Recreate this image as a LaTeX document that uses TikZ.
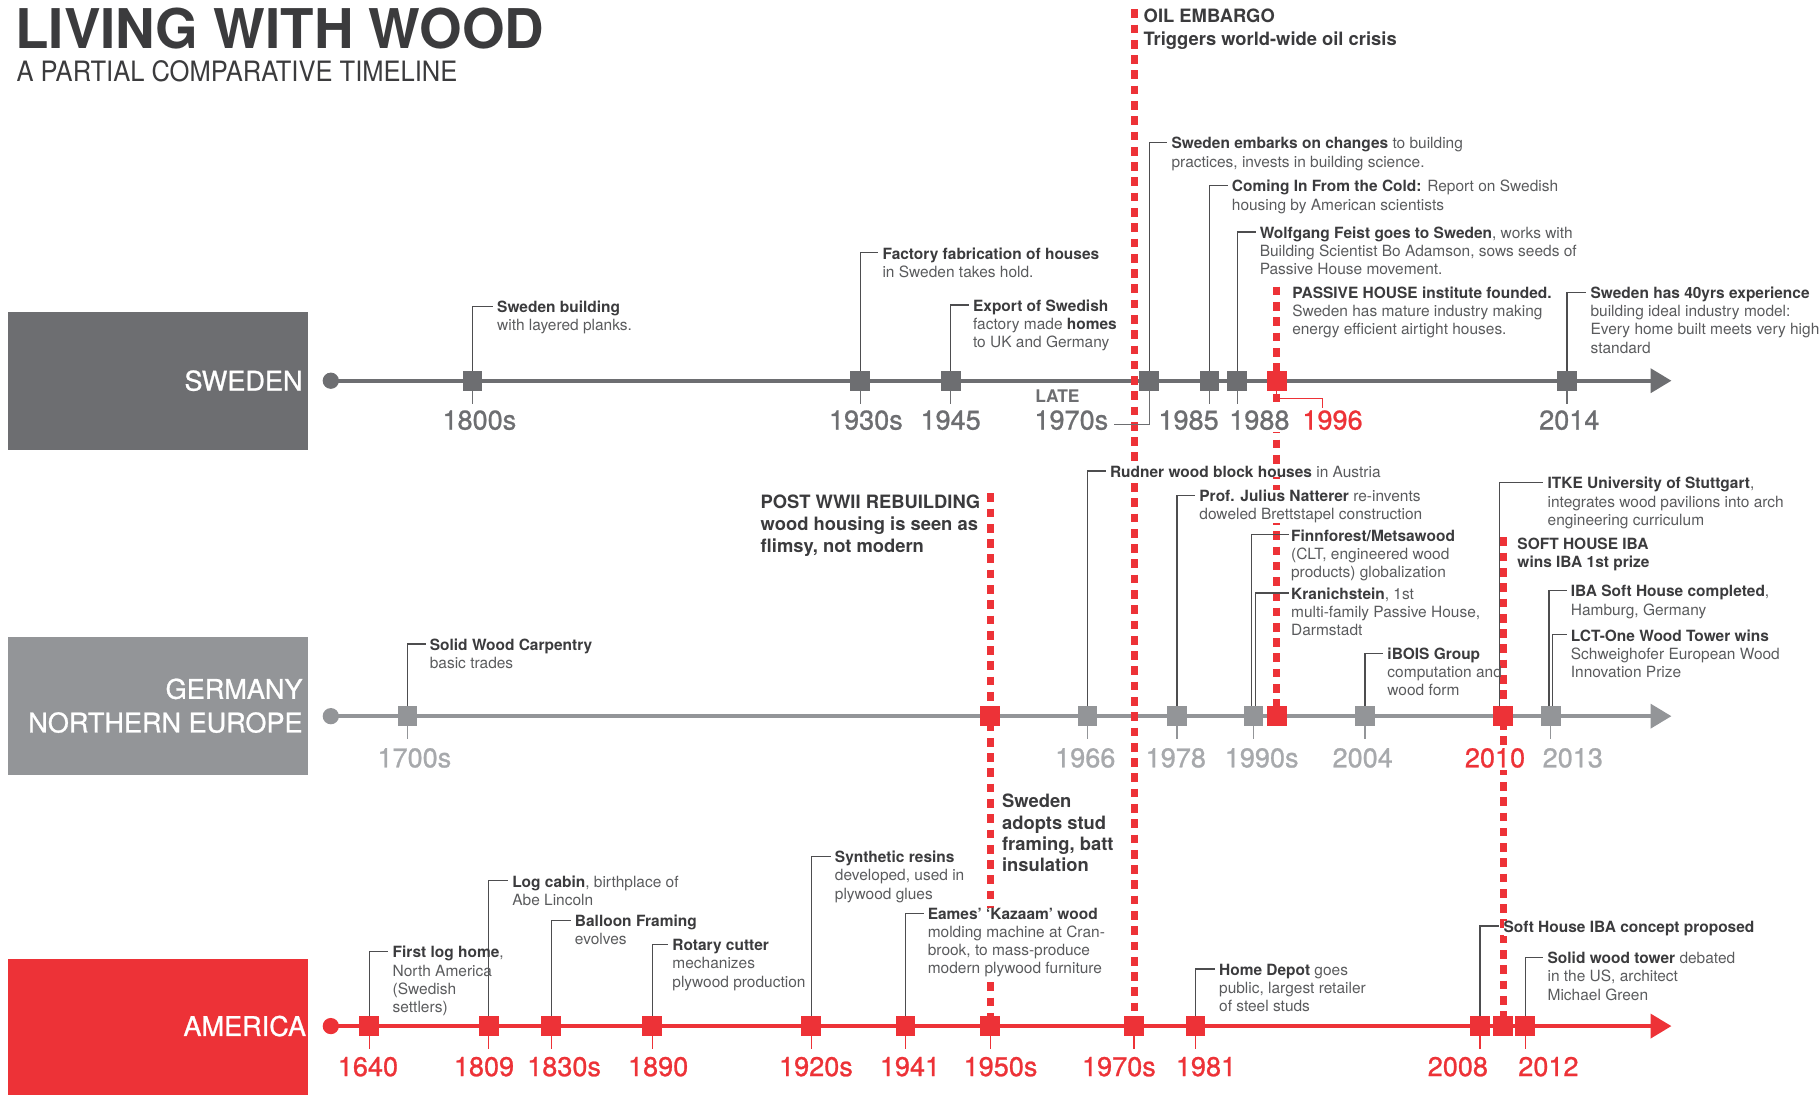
\documentclass[tikz,border=0pt]{standalone}
\usepackage{fontspec}
\setmainfont{TeX Gyre Heros}
\newfontfamily\narrowfont[FakeStretch=0.91]{TeX Gyre Heros}
\newfontfamily\medfont[FakeBold=0.9]{TeX Gyre Heros}
\usetikzlibrary{arrows.meta}
\definecolor{swgray}{HTML}{6D6E71}
\definecolor{degray}{HTML}{939598}
\definecolor{delabel}{HTML}{A7A9AC}
\definecolor{amred}{HTML}{ED3237}
\definecolor{ink}{HTML}{3B3B3D}
\definecolor{notegray}{HTML}{5A5B5D}
\definecolor{leadgray}{HTML}{4D4D4F}
\pgfdeclarelayer{back}
\pgfsetlayers{back,main}
\newcommand\bt[1]{\textcolor{ink}{\bfseries #1}}
\tikzset{
  timeline/.style={line width=2pt,-{Triangle[length=10.8pt,width=12.4pt]}},
  startdot/.style={circle,inner sep=0pt,minimum size=8.4pt},
  evt/.style={rectangle,inner sep=0pt,minimum size=10.2pt},
  leader/.style={draw=leadgray,line width=0.6pt},
  downtick/.style={line width=0.6pt},
  redline/.style={draw=amred,line width=3.6pt,dash pattern=on 4.5pt off 3.4pt},
  note/.style={anchor=north west,align=left,inner sep=0pt,text=notegray,font=\fontsize{8}{9.4}\selectfont},
  bignote/.style={anchor=north west,align=left,inner sep=0pt,text=ink,font=\fontsize{9.5}{11.5}\selectfont\bfseries},
  mask/.style={fill=white},
  yearlab/.style={inner sep=1pt,fill=white,font=\medfont\fontsize{14}{14}\selectfont},
  country/.style={anchor=east,align=right,text=white,inner sep=0pt,font=\medfont\fontsize{14}{17.4}\selectfont},
}
\begin{document}
\begin{tikzpicture}[x=0.6pt,y=-0.6pt]
\useasboundingbox (0,0) rectangle (1568,943);
\node[anchor=base west,inner sep=0pt,text=ink,font=\fontsize{28.3}{28}\selectfont\bfseries] (title) at (13,42) {LIVING WITH WOOD};
\node[anchor=base west,inner sep=0pt,text=ink,font=\narrowfont\fontsize{14.5}{14.5}\selectfont] (subtitle) at (14,70) {A PARTIAL COMPARATIVE TIMELINE};

\fill[swgray] (7,269) rectangle (265,388);
\fill[degray] (7,549) rectangle (265,668);
\fill[amred] (7,826) rectangle (265,943);
\node[country] (swlab) at (261,328) {SWEDEN};
\node[country] (delab) at (261,608) {GERMANY\\NORTHERN EUROPE};
\node[country] (amlab) at (264,884) {AMERICA};

\node[startdot,fill=swgray] (swstart) at (285,328) {};
\node[startdot,fill=degray] (destart) at (285,617) {};
\node[startdot,fill=amred] (amstart) at (285,884) {};
\coordinate (swend) at (1440,328);
\coordinate (deend) at (1440,617);
\coordinate (amend) at (1440,884);
\coordinate (oiltop) at (977,8);
\coordinate (posttop) at (853,425);
\coordinate (phtop) at (1100,247);
\coordinate (softtop) at (1295,463);

\node[evt,fill=swgray] (s1800) at (407,328) {};
\node[evt,fill=swgray] (s1930) at (741,328) {};
\node[evt,fill=swgray] (s1945) at (819,328) {};
\node[evt,fill=swgray] (s1970) at (990,328) {};
\node[evt,fill=swgray] (s1985) at (1042,328) {};
\node[evt,fill=swgray] (s1988) at (1066,328) {};
\node[evt,fill=amred] (s1996) at (1100,328) {};
\node[evt,fill=swgray] (s2014) at (1350,328) {};

\node[evt,fill=degray] (g1700) at (351,617) {};
\node[evt,fill=amred] (gpost) at (853,617) {};
\node[evt,fill=degray] (g1966) at (937,617) {};
\node[evt,fill=degray] (g1978) at (1014,617) {};
\node[evt,fill=degray] (g1990) at (1080,617) {};
\node[evt,fill=amred] (g1996) at (1100,617) {};
\node[evt,fill=degray] (g2004) at (1176,617) {};
\node[evt,fill=amred] (g2010) at (1295,617) {};
\node[evt,fill=degray] (g2013) at (1336,617) {};

\node[evt,fill=amred] (a1640) at (318,884) {};
\node[evt,fill=amred] (a1809) at (421,884) {};
\node[evt,fill=amred] (a1830) at (475,884) {};
\node[evt,fill=amred] (a1890) at (562,884) {};
\node[evt,fill=amred] (a1920) at (699,884) {};
\node[evt,fill=amred] (a1941) at (780,884) {};
\node[evt,fill=amred] (a1950) at (853,884) {};
\node[evt,fill=amred] (a1970) at (977,884) {};
\node[evt,fill=amred] (a1981) at (1030,884) {};
\node[evt,fill=amred] (a2008) at (1275,884) {};
\node[evt,fill=amred] (a2010) at (1295,884) {};
\node[evt,fill=amred] (a2012) at (1314,884) {};

\node[yearlab,text=swgray] (ys1800) at (413,362) {1800s};
\node[yearlab,text=swgray] (ys1930) at (746,362) {1930s};
\node[yearlab,text=swgray] (ys1945) at (819,362) {1945};
\node[inner sep=0pt,text=swgray,font=\fontsize{9}{9}\selectfont\bfseries] (ylate) at (911,341) {LATE};
\node[yearlab,text=swgray] (ys1970) at (923,362) {1970s};
\node[yearlab,text=swgray] (ys1985) at (1024,362) {1985};
\node[yearlab,text=swgray] (ys1988) at (1085,362) {1988};
\node[yearlab,text=amred] (ys1996) at (1148,362) {1996};
\node[yearlab,text=swgray] (ys2014) at (1352,362) {2014};

\node[yearlab,text=delabel] (yg1700) at (357,653) {1700s};
\node[yearlab,text=delabel] (yg1966) at (935,653) {1966};
\node[yearlab,text=delabel] (yg1978) at (1013,653) {1978};
\node[yearlab,text=delabel] (yg1990) at (1087,653) {1990s};
\node[yearlab,text=delabel] (yg2004) at (1174,653) {2004};
\node[yearlab,text=amred] (yg2010) at (1288,653) {2010};
\node[yearlab,text=delabel] (yg2013) at (1355,653) {2013};

\node[yearlab,text=amred] (ya1640) at (317,919) {1640};
\node[yearlab,text=amred] (ya1809) at (417,919) {1809};
\node[yearlab,text=amred] (ya1830) at (486,919) {1830s};
\node[yearlab,text=amred] (ya1890) at (567,919) {1890};
\node[yearlab,text=amred] (ya1920) at (703,919) {1920s};
\node[yearlab,text=amred] (ya1941) at (784,919) {1941};
\node[yearlab,text=amred] (ya1950) at (862,919) {1950s};
\node[yearlab,text=amred] (ya1970) at (964,919) {1970s};
\node[yearlab,text=amred] (ya1981) at (1039,919) {1981};
\node[yearlab,text=amred] (ya2008) at (1256,919) {2008};
\node[yearlab,text=amred] (ya2012) at (1334,919) {2012};

\node[bignote,font=\fontsize{9.5}{12}\selectfont\bfseries] (toil) at (985,7) {OIL EMBARGO\\Triggers world-wide oil crisis};
\node[note] (ts1800) at (428,259) {\bt{Sweden building}\\with layered planks.};
\node[note] (ts1930) at (760,213) {\bt{Factory fabrication of houses}\\in Sweden takes hold.};
\node[note] (ts1945) at (838,258) {\bt{Export of Swedish}\\factory made \bt{homes}\\to UK and Germany};
\node[note] (ts1970) at (1009,118) {\bt{Sweden embarks on changes} to building\\practices, invests in building science.};
\node[note] (ts1985) at (1061,155) {\bt{Coming In From the Cold:} Report on Swedish\\housing by American scientists};
\node[note] (ts1988) at (1085,195) {\bt{Wolfgang Feist goes to Sweden}, works with\\Building Scientist Bo Adamson, sows seeds of\\Passive House movement.};
\node[note] (ts1996) at (1113,247) {\bt{PASSIVE HOUSE institute founded.}\\Sweden has mature industry making\\energy efficient airtight houses.};
\node[note] (ts2014) at (1370,247) {\bt{Sweden has 40yrs experience}\\building ideal industry model:\\Every home built meets very high\\standard};

\node[note] (tg1700) at (370,550) {\bt{Solid Wood Carpentry}\\basic trades};
\node[bignote] (tgpost) at (655,426) {POST WWII REBUILDING\\wood housing is seen as\\flimsy, not modern};
\node[note,mask] (tg1966) at (956,401) {\bt{Rudner wood block houses} in Austria};
\node[note,mask] (tg1978) at (1033,422) {\bt{Prof. Julius Natterer} re-invents\\doweled Brettstapel construction};
\node[note] (tg1990a) at (1112,456) {\bt{Finnforest/Metsawood}\\(CLT, engineered wood\\products) globalization};
\node[note] (tg1990b) at (1112,506) {\bt{Kranichstein}, 1st\\multi-family Passive House,\\Darmstadt};
\node[note] (tg2004) at (1195,558) {\bt{iBOIS Group}\\computation and\\wood form};
\node[note] (tg2010) at (1333,411) {\bt{ITKE University of Stuttgart},\\integrates wood pavilions into arch\\engineering curriculum};
\node[note,text=ink,font=\fontsize{8}{9.4}\selectfont\bfseries] (tgsoft) at (1307,463) {SOFT HOUSE IBA\\wins IBA 1st prize};
\node[note] (tg2013a) at (1353,504) {\bt{IBA Soft House completed},\\Hamburg, Germany};
\node[note] (tg2013b) at (1353,542) {\bt{LCT-One Wood Tower wins}\\Schweighofer European Wood\\Innovation Prize};

\node[note] (ta1640) at (338,815) {\bt{First log home},\\North America\\(Swedish\\settlers)};
\node[note] (ta1809) at (441,754) {\bt{Log cabin}, birthplace of\\Abe Lincoln};
\node[note] (ta1830) at (495,788) {\bt{Balloon Framing}\\evolves};
\node[note] (ta1890) at (579,809) {\bt{Rotary cutter}\\mechanizes\\plywood production};
\node[note] (ta1920) at (719,733) {\bt{Synthetic resins}\\developed, used in\\plywood glues};
\node[note,mask] (ta1941) at (799,782) {\bt{Eames’ ‘Kazaam’ wood}\\molding machine at Cran-\\brook, to mass-produce\\modern plywood furniture};
\node[bignote,font=\fontsize{9.5}{11}\selectfont\bfseries] (ta1950) at (863,684) {Sweden\\adopts stud\\framing, batt\\insulation};
\node[note] (ta1981) at (1050,830) {\bt{Home Depot} goes\\public, largest retailer\\of steel studs};
\node[note,mask] (ta2008) at (1295,793) {\bt{Soft House IBA concept proposed}};
\node[note] (ta2012) at (1333,820) {\bt{Solid wood tower} debated\\in the US, architect\\Michael Green};

\begin{pgfonlayer}{back}
\draw[timeline,swgray] (swstart.center) -- (swend);
\draw[timeline,degray] (destart.center) -- (deend);
\draw[timeline,amred] (amstart.center) -- (amend);
\draw[redline] (oiltop) -- (a1970.center);
\draw[redline] (posttop) -- (a1950.center);
\draw[redline] (phtop) -- (g1996.center);
\draw[redline] (softtop) -- (a2010.center);

\draw[leader] (s1800.center) |- ([xshift=-2pt,yshift=-2.9pt]ts1800.north west);
\draw[leader] (s1930.center) |- ([xshift=-2pt,yshift=-2.9pt]ts1930.north west);
\draw[leader] (s1945.center) |- ([xshift=-2pt,yshift=-2.9pt]ts1945.north west);
\draw[leader] (s1970.center) |- ([xshift=-2pt,yshift=-2.9pt]ts1970.north west);
\draw[leader] (s1985.center) |- ([xshift=-2pt,yshift=-2.9pt]ts1985.north west);
\draw[leader] (s1988.center) |- ([xshift=-2pt,yshift=-2.9pt]ts1988.north west);
\draw[leader] (s2014.center) |- ([xshift=-2pt,yshift=-2.9pt]ts2014.north west);
\draw[leader] (g1700.center) |- ([xshift=-2pt,yshift=-2.9pt]tg1700.north west);
\draw[leader] (g1966.center) |- ([xshift=-2pt,yshift=-2.9pt]tg1966.north west);
\draw[leader] (g1978.center) |- ([xshift=-2pt,yshift=-2.9pt]tg1978.north west);
\draw[leader] ([xshift=-0.9pt]g1990.center) |- ([xshift=-1pt,yshift=-2.9pt]tg1990a.north west);
\draw[leader] ([xshift=0.9pt]g1990.center) |- ([xshift=-1pt,yshift=-2.9pt]tg1990b.north west);
\draw[leader] (g2004.center) |- ([xshift=-2pt,yshift=-2.9pt]tg2004.north west);
\draw[leader] ([xshift=-1.8pt]g2010.center) |- ([xshift=-2pt,yshift=-2.9pt]tg2010.north west);
\draw[leader] ([xshift=-0.9pt]g2013.center) |- ([xshift=-2pt,yshift=-2.9pt]tg2013a.north west);
\draw[leader] ([xshift=0.9pt]g2013.center) |- ([xshift=-2pt,yshift=-2.9pt]tg2013b.north west);
\draw[leader] (a1640.center) |- ([xshift=-2pt,yshift=-2.9pt]ta1640.north west);
\draw[leader] (a1809.center) |- ([xshift=-2pt,yshift=-2.9pt]ta1809.north west);
\draw[leader] (a1830.center) |- ([xshift=-2pt,yshift=-2.9pt]ta1830.north west);
\draw[leader] (a1890.center) |- ([xshift=-2pt,yshift=-2.9pt]ta1890.north west);
\draw[leader] (a1920.center) |- ([xshift=-2pt,yshift=-2.9pt]ta1920.north west);
\draw[leader] (a1941.center) |- ([xshift=-2pt,yshift=-2.9pt]ta1941.north west);
\draw[leader] (a1981.center) |- ([xshift=-2pt,yshift=-2.9pt]ta1981.north west);
\draw[leader] (a2008.center) |- ([xshift=-2pt,yshift=-2.9pt]ta2008.north west);
\draw[leader] (a2012.center) |- ([xshift=-2pt,yshift=-2.9pt]ta2012.north west);

\draw[downtick,swgray] (s1800.center) -- ++(0,20);
\draw[downtick,swgray] (s1930.center) -- ++(0,20);
\draw[downtick,swgray] (s1945.center) -- ++(0,20);
\draw[downtick,swgray] (s1985.center) -- ++(0,20);
\draw[downtick,swgray] (s1988.center) -- ++(0,20);
\draw[downtick,swgray] (s2014.center) -- ++(0,20);
\draw[downtick,swgray] (s1970.center) |- ([xshift=2pt,yshift=-2.4pt]ys1970.east);
\draw[downtick,amred] (s1996.center) -- ++(0,15) -| ([xshift=-5pt]ys1996.north);
\draw[downtick,degray] (g1700.center) -- ++(0,20);
\draw[downtick,degray] (g1966.center) -- ++(0,20);
\draw[downtick,degray] (g1978.center) -- ++(0,20);
\draw[downtick,degray] (g1990.center) -- ++(0,20);
\draw[downtick,degray] (g2004.center) -- ++(0,20);
\draw[downtick,degray] (g2013.center) -- ++(0,20);
\draw[downtick,amred] (a1640.center) -- ++(0,20);
\draw[downtick,amred] (a1809.center) -- ++(0,20);
\draw[downtick,amred] (a1830.center) -- ++(0,20);
\draw[downtick,amred] (a1890.center) -- ++(0,20);
\draw[downtick,amred] (a1920.center) -- ++(0,20);
\draw[downtick,amred] (a1941.center) -- ++(0,20);
\draw[downtick,amred] (a1950.center) -- ++(0,20);
\draw[downtick,amred] (a1970.center) -- ++(0,20);
\draw[downtick,amred] (a1981.center) -- ++(0,20);
\draw[downtick,amred] (a2008.center) -- ++(0,20);
\draw[downtick,amred] (a2012.center) -- ++(0,20);
\end{pgfonlayer}
\end{tikzpicture}
\end{document}
